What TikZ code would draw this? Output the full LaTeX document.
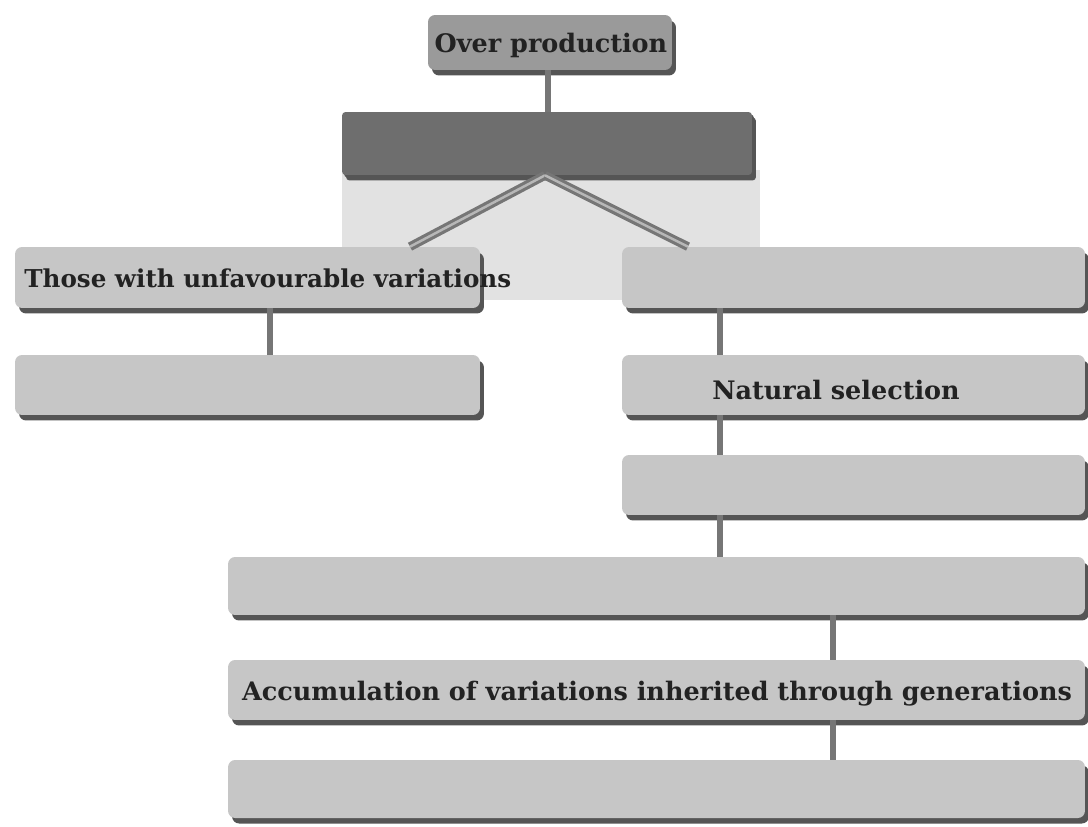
\documentclass[tikz,border=0pt]{standalone}
\usepackage{fontspec}
\setmainfont{DejaVu Serif}
\usetikzlibrary{shadows}
\definecolor{boxgray}{HTML}{C6C6C6}
\definecolor{opgray}{HTML}{9A9A9A}
\definecolor{darkgray2}{HTML}{6E6E6E}
\definecolor{shadowgray}{HTML}{555555}
\definecolor{bglight}{HTML}{E2E2E2}
\definecolor{linkgray}{HTML}{767676}
\definecolor{txt}{HTML}{222222}
\tikzset{
  box/.style={draw=none, fill=boxgray, rounded corners=4pt, inner sep=0pt,
    drop shadow={shadow xshift=0.08cm, shadow yshift=-0.11cm, fill=shadowgray, opacity=1}},
  lbl/.style={font=\bfseries\fontsize{14.5}{16}\selectfont, text=txt, inner sep=0pt},
  link/.style={draw=linkgray, line width=3.4pt},
  dlink/.style={draw=linkgray, line width=1.8pt, double=bglight!60!linkgray, double distance=1.4pt},
}
\begin{document}
\begin{tikzpicture}[x=0.02cm, y=-0.02cm]
\useasboundingbox (0,0) rectangle (1088,827);
\fill[white] (0,0) rectangle (1088,827);
\fill[bglight] (342,170) rectangle (760,300);
% boxes
\node[box, fill=opgray, minimum width=4.88cm, minimum height=1.1cm] (op) at (550,42.5) {};
\node[box, fill=darkgray2, rounded corners=2pt, minimum width=8.2cm, minimum height=1.26cm,
  drop shadow={shadow xshift=0.04cm, shadow yshift=-0.05cm, fill=shadowgray, opacity=1}] (dk) at (547,143.5) {};
\node[box, minimum width=9.3cm, minimum height=1.22cm] (th) at (247.5,277.5) {};
\node[box, minimum width=9.26cm, minimum height=1.22cm] (r1) at (853.5,277.5) {};
\node[box, minimum width=9.3cm, minimum height=1.2cm] (l2) at (247.5,385) {};
\node[box, minimum width=9.26cm, minimum height=1.2cm] (ns) at (853.5,385) {};
\node[box, minimum width=9.26cm, minimum height=1.2cm] (r3) at (853.5,485) {};
\node[box, minimum width=17.14cm, minimum height=1.16cm] (w1) at (656.5,586) {};
\node[box, minimum width=17.14cm, minimum height=1.2cm] (ac) at (656.5,690) {};
\node[box, minimum width=17.14cm, minimum height=1.16cm] (w3) at (656.5,789) {};
% connectors
\draw[link] (op.south -| 548,0) -- (dk.north -| 548,0);
\draw[dlink] (dk.south -| 545,0) -- (th.north -| 410,0);
\draw[dlink] (dk.south -| 545,0) -- (r1.north -| 688,0);
\draw[link] (th.south -| 270,0) -- (l2.north -| 270,0);
\draw[link] (r1.south -| 720,0) -- (ns.north -| 720,0);
\draw[link] (ns.south -| 720,0) -- (r3.north -| 720,0);
\draw[link] (r3.south -| 720,0) -- (w1.north -| 720,0);
\draw[link] (w1.south -| 833,0) -- (ac.north -| 833,0);
\draw[link] (ac.south -| 833,0) -- (w3.north -| 833,0);
% texts
\node[lbl] (t1) at (551,45) {Over production};
\node[lbl, font=\bfseries\fontsize{14}{16}\selectfont, anchor=west] (t2) at (24,278) {Those with unfavourable variations};
\node[lbl] (t3) at (836,390) {Natural selection};
\node[lbl] (t4) at (657,694) {Accumulation of variations inherited through generations};
\end{tikzpicture}
\end{document}
